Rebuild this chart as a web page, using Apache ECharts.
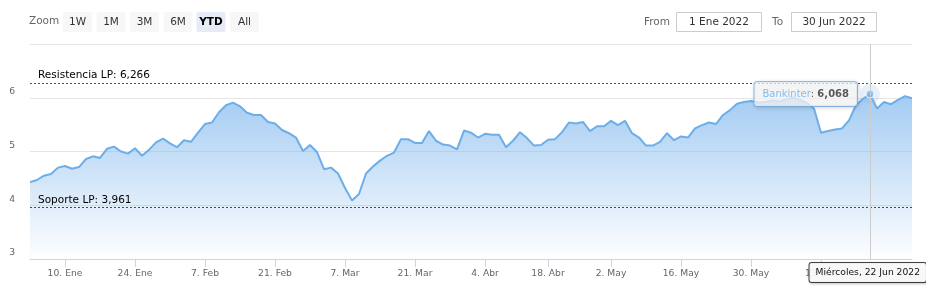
<!DOCTYPE html>
<html><head><meta charset="utf-8">
<script src="https://cdn.jsdelivr.net/npm/echarts@6/dist/echarts.min.js"></script>
<style>html,body{margin:0;padding:0;background:#fff}#c{width:926px;height:297px}</style>
</head><body><div id="c"></div>
<script>
// ---------- data ----------
const seriesName = 'Bankinter';
const startDate = '2022-01-03';
const endDate = '2022-06-30';
const holidays = ['2022-04-15', '2022-04-18'];
const prices = [
  4.43, 4.47, 4.55, 4.58, 4.70, 4.73, 4.68, 4.71, 4.86, 4.91,
  4.88, 5.05, 5.09, 5.00, 4.96, 5.06, 4.92, 5.03, 5.17, 5.24,
  5.15, 5.08, 5.21, 5.18, 5.35, 5.51, 5.54, 5.73, 5.86, 5.91,
  5.84, 5.72, 5.68, 5.68, 5.55, 5.52, 5.40, 5.34, 5.26, 5.01,
  5.12, 4.99, 4.67, 4.70, 4.59, 4.32, 4.09, 4.21, 4.59, 4.72,
  4.83, 4.92, 4.98, 5.23, 5.23, 5.16, 5.16, 5.38, 5.20, 5.13,
  5.11, 5.04, 5.39, 5.35, 5.26, 5.33, 5.31, 5.31, 5.08, 5.20,
  5.36, 5.25, 5.11, 5.12, 5.22, 5.23, 5.36, 5.54, 5.52, 5.55,
  5.38, 5.47, 5.47, 5.57, 5.49, 5.57, 5.34, 5.26, 5.11, 5.11,
  5.18, 5.34, 5.21, 5.28, 5.26, 5.43, 5.49, 5.54, 5.51, 5.68,
  5.77, 5.89, 5.92, 5.94, 5.91, 5.92, 5.95, 5.93, 5.97, 6.00,
  5.96, 5.90, 5.80, 5.35, 5.38, 5.41, 5.43, 5.58, 5.86, 5.98,
  6.068, 5.80, 5.92, 5.88, 5.96, 6.03, 5.99
];
const tickDates = ['2022-01-10','2022-01-24','2022-02-07','2022-02-21','2022-03-07','2022-03-21',
                   '2022-04-04','2022-04-18','2022-05-02','2022-05-16','2022-05-30','2022-06-13'];
const tickLabels = ['10. Ene','24. Ene','7. Feb','21. Feb','7. Mar','21. Mar',
                    '4. Abr','18. Abr','2. May','16. May','30. May','13. Jun'];
const yMin = 3, yMax = 7, yStep = 1;
const resistanceValue = 6.266;
const supportValue = 3.961;
const resistanceName = 'Resistencia LP';
const supportName = 'Soporte LP';
const hoverDate = '2022-06-22';
const hoverHeader = 'Miércoles, 22 Jun 2022';
const zoomTitle = 'Zoom';
const zoomButtons = ['1W','1M','3M','6M','YTD','All'];
const selectedButton = 'YTD';
const fromLabel = 'From', toLabel = 'To';
const fromText = '1 Ene 2022', toText = '30 Jun 2022';

// ---------- build ----------
const dates = [];
(function () {
  let d = new Date(startDate + 'T00:00:00Z');
  const end = new Date(endDate + 'T00:00:00Z');
  while (d <= end) {
    const s = d.toISOString().slice(0, 10);
    const w = d.getUTCDay();
    if (w !== 0 && w !== 6 && holidays.indexOf(s) < 0) dates.push(s);
    d = new Date(d.getTime() + 86400000);
  }
})();
const tickIdx = tickDates.map(t => dates.findIndex(x => x >= t));
const hoverIdx = dates.indexOf(hoverDate);
const fmt = v => v.toFixed(3).replace('.', ',');
const FONT = 'DejaVu Sans';
const BLUE = '#7cb5ec';

const chart = echarts.init(document.getElementById('c'), null, {renderer: 'canvas'});

const btnX = [63, 96.5, 130, 163.5, 196.5, 230];
const graphics = [
  {type: 'text', left: 29, top: 16, style: {text: zoomTitle, fill: '#666', font: '10.5px ' + FONT}}
];
zoomButtons.forEach((b, i) => {
  const sel = b === selectedButton;
  graphics.push({type: 'rect', shape: {x: btnX[i], y: 12, width: 29, height: 20, r: 2},
    style: {fill: sel ? '#e6ebf5' : '#f7f7f7'}});
  graphics.push({type: 'text', x: btnX[i] + 14.5, y: 22,
    style: {text: b, fill: sel ? '#000' : '#333', font: (sel ? 'bold ' : '') + '10.5px ' + FONT,
      align: 'center', verticalAlign: 'middle'}});
});
graphics.push({type: 'text', x: 670, y: 22, style: {text: fromLabel, fill: '#666', font: '10.5px ' + FONT, align: 'right', verticalAlign: 'middle'}});
graphics.push({type: 'rect', shape: {x: 676.5, y: 12.5, width: 85, height: 19}, style: {fill: '#fff', stroke: '#cccccc', lineWidth: 1}});
graphics.push({type: 'text', x: 719, y: 22, style: {text: fromText, fill: '#333', font: '10.5px ' + FONT, align: 'center', verticalAlign: 'middle'}});
graphics.push({type: 'text', x: 772, y: 22, style: {text: toLabel, fill: '#666', font: '10.5px ' + FONT, align: 'left', verticalAlign: 'middle'}});
graphics.push({type: 'rect', shape: {x: 791.5, y: 12.5, width: 85, height: 19}, style: {fill: '#fff', stroke: '#cccccc', lineWidth: 1}});
graphics.push({type: 'text', x: 834, y: 22, style: {text: toText, fill: '#333', font: '10.5px ' + FONT, align: 'center', verticalAlign: 'middle'}});

const option = {
  animation: false,
  textStyle: {fontFamily: FONT},
  graphic: graphics,
  grid: {left: 30, right: 14, top: 44, bottom: 38, containLabel: false},
  xAxis: {
    type: 'category', data: dates, boundaryGap: false,
    axisLine: {lineStyle: {color: '#ccd6eb', width: 1}},
    axisTick: {interval: i => tickIdx.indexOf(i) >= 0, length: 8, lineStyle: {color: '#ccd6eb'}},
    axisLabel: {interval: i => tickIdx.indexOf(i) >= 0,
      formatter: (v, i) => tickLabels[tickIdx.indexOf(i)] || '',
      color: '#666', fontSize: 9.2, fontFamily: FONT, margin: 10},
    splitLine: {show: false},
    axisPointer: {
      show: true, type: 'line', value: hoverIdx, status: 'show', snap: true, triggerTooltip: false,
      lineStyle: {color: '#cccccc', width: 1, type: 'solid'},
      handle: {show: false},
      label: {show: true, formatter: () => hoverHeader, backgroundColor: 'rgba(250,250,250,0.95)',
        borderColor: '#444', borderWidth: 1, borderRadius: 2, color: '#111', fontSize: 9.2, fontFamily: FONT,
        padding: [5, 6, 5, 6], margin: 4,
        shadowColor: 'rgba(0,0,0,0.2)', shadowBlur: 3, shadowOffsetX: 1, shadowOffsetY: 1}
    }
  },
  yAxis: {
    type: 'value', min: yMin, max: yMax, interval: yStep,
    axisLine: {show: false}, axisTick: {show: false},
    axisLabel: {color: '#666', fontSize: 9.2, fontFamily: FONT, margin: 15, showMaxLabel: false,
      verticalAlign: 'bottom', lineHeight: 12},
    splitLine: {lineStyle: {color: '#e6e6e6', width: 1}}
  },
  series: [
    {
      name: seriesName, type: 'line', data: prices, showSymbol: false, symbol: 'none',
      lineStyle: {color: '#6caeea', width: 2}, z: 2,
      areaStyle: {color: new echarts.graphic.LinearGradient(0, 0, 0, 1, [
        {offset: 0, color: 'rgba(124,181,236,1)'},
        {offset: 1, color: 'rgba(124,181,236,0.02)'}])},
      markLine: {
        silent: true, symbol: 'none', animation: false,
        lineStyle: {type: [2, 2], width: 1},
        label: {position: 'insideStartTop', color: '#000', fontSize: 10.5, fontFamily: FONT, distance: [8, 2]},
        data: [
          {yAxis: resistanceValue, lineStyle: {color: '#008a00'},
           label: {formatter: resistanceName + ': ' + fmt(resistanceValue)}},
          {yAxis: supportValue, lineStyle: {color: '#c0142a'},
           label: {formatter: supportName + ': ' + fmt(supportValue)}}
        ]
      }
    },
    {
      type: 'scatter', z: 10, silent: true,
      data: [[hoverIdx, prices[hoverIdx]]], symbol: 'circle', symbolSize: 20,
      itemStyle: {color: 'rgba(124,181,236,0.25)'},
      label: {
        show: true, position: 'left', distance: 3,
        formatter: '{a|' + seriesName + '}{b|: }{c|' + fmt(prices[hoverIdx]) + '}',
        backgroundColor: 'rgba(252,252,252,0.92)', borderColor: BLUE, borderWidth: 1, borderRadius: 3,
        padding: [7, 8, 7, 8],
        shadowColor: 'rgba(0,0,0,0.18)', shadowBlur: 4, shadowOffsetX: 1, shadowOffsetY: 1,
        rich: {
          a: {color: '#6aaee9', fontSize: 10, fontFamily: FONT},
          b: {color: '#333', fontSize: 10, fontFamily: FONT},
          c: {color: '#333', fontSize: 10, fontWeight: 'bold', fontFamily: FONT}
        }
      }
    },
    {
      type: 'scatter', z: 11, silent: true,
      data: [[hoverIdx, prices[hoverIdx]]], symbol: 'circle', symbolSize: 8,
      itemStyle: {color: BLUE, borderColor: '#fff', borderWidth: 1}
    }
  ]
};
chart.setOption(option);
</script>
</body></html>
